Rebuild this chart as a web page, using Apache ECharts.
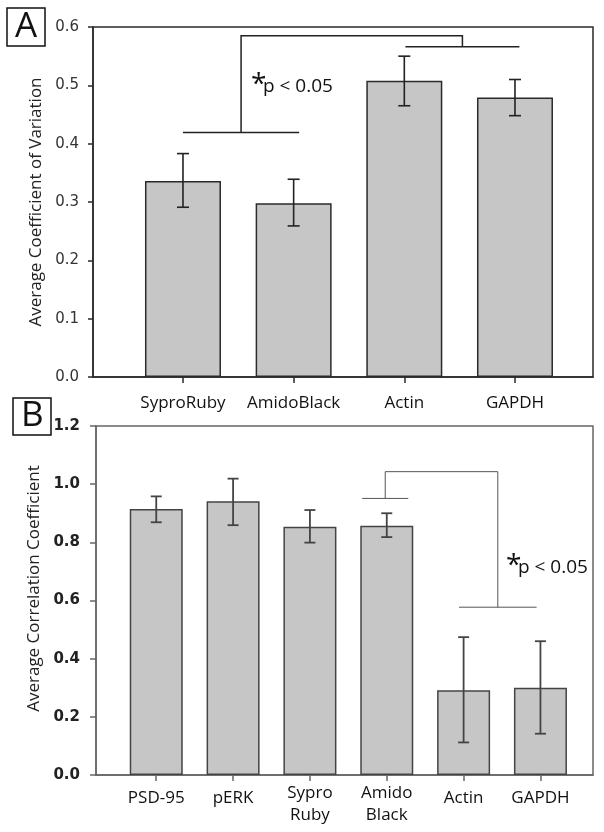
<!DOCTYPE html>
<html>
<head>
<meta charset="utf-8">
<script src="https://cdn.jsdelivr.net/npm/echarts@6/dist/echarts.min.js"></script>
<style>
html,body{margin:0;padding:0;background:#fff;}
#chart{width:604px;height:832px;}
</style>
</head>
<body>
<div id="chart"></div>
<script>
// ---- Panel A data ----
const catsA = ['SyproRuby', 'AmidoBlack', 'Actin', 'GAPDH'];
const meanA = [0.336, 0.298, 0.508, 0.479];
const errLoA = [0.045, 0.039, 0.043, 0.031];
const errHiA = [0.047, 0.041, 0.042, 0.031];
// significance bracket A: [xFrom, xTo, y]
const sigA_left = [1, 2.05, 0.419];
const sigA_right = [3.01, 4.04, 0.566];
const sigA_top = 0.585;
const sigA_text = [1.723, 0.497];

// ---- Panel B data ----
const catsB = ['PSD-95', 'pERK', 'Sypro\nRuby', 'Amido\nBlack', 'Actin', 'GAPDH'];
const meanB = [0.915, 0.941, 0.854, 0.857, 0.291, 0.300];
const errLoB = [0.046, 0.082, 0.055, 0.039, 0.179, 0.158];
const errHiB = [0.043, 0.078, 0.057, 0.043, 0.183, 0.160];
const sigB_left = [3.68, 4.28, 0.951];
const sigB_right = [4.94, 5.95, 0.577];
const sigB_top = 1.043;
const sigB_text = [5.707, 0.712];

const posA = catsA.map((c, i) => i + 1);
const posB = catsB.map((c, i) => i + 1);

const FONT = 'Open Sans';

function barData(pos, mean) { return pos.map((p, i) => [p, mean[i]]); }
function errData(pos, mean, lo, hi) { return pos.map((p, i) => [p, mean[i] - lo[i], mean[i] + hi[i]]); }

function errRender(color, lw, cw) {
  return function (params, api) {
    const x = api.value(0);
    const a = api.coord([x, api.value(1)]);
    const b = api.coord([x, api.value(2)]);
    const st = { stroke: color, lineWidth: lw };
    return { type: 'group', children: [
      { type: 'line', shape: { x1: a[0], y1: a[1], x2: b[0], y2: b[1] }, style: st },
      { type: 'line', shape: { x1: a[0] - cw, y1: a[1], x2: a[0] + cw, y2: a[1] }, style: st },
      { type: 'line', shape: { x1: b[0] - cw, y1: b[1], x2: b[0] + cw, y2: b[1] }, style: st }
    ] };
  };
}

function bracketRender(left, right, topY, textPos, color, lw, pSize, starSize) {
  return function (params, api) {
    const st = { stroke: color, lineWidth: lw, fill: null };
    const lm = (left[0] + left[1]) / 2, rm = (right[0] + right[1]) / 2;
    const l1 = api.coord([left[0], left[2]]), l2 = api.coord([left[1], left[2]]);
    const r1 = api.coord([right[0], right[2]]), r2 = api.coord([right[1], right[2]]);
    const pl = api.coord([lm, left[2]]), plt = api.coord([lm, topY]);
    const pr = api.coord([rm, right[2]]), prt = api.coord([rm, topY]);
    const tp = api.coord(textPos);
    return { type: 'group', children: [
      { type: 'line', shape: { x1: l1[0], y1: l1[1], x2: l2[0], y2: l2[1] }, style: st },
      { type: 'line', shape: { x1: r1[0], y1: r1[1], x2: r2[0], y2: r2[1] }, style: st },
      { type: 'polyline', shape: { points: [pl, plt, prt, pr] }, style: st },
      { type: 'text', style: { text: 'p < 0.05', x: tp[0], y: tp[1], fontSize: pSize, fontFamily: FONT, fill: '#111', align: 'left', verticalAlign: 'middle' } },
      { type: 'text', style: { text: '*', x: tp[0] - 12, y: tp[1] - 2, fontSize: starSize, fontFamily: FONT, fill: '#111', align: 'left', verticalAlign: 'middle' } }
    ] };
  };
}

const chart = echarts.init(document.getElementById('chart'), null, { renderer: 'canvas' });

const option = {
  animation: false,
  backgroundColor: '#fff',
  title: [
    { text: 'A', left: 7, top: 8, padding: [1, 8, 1, 8], borderWidth: 1.5, borderColor: '#111',
      textStyle: { fontSize: 35, fontFamily: FONT, fontWeight: 'normal', color: '#111', lineHeight: 36 } },
    { text: 'B', left: 13, top: 398, padding: [1, 8, 1, 8], borderWidth: 1.5, borderColor: '#111',
      textStyle: { fontSize: 35, fontFamily: FONT, fontWeight: 'normal', color: '#111', lineHeight: 35 } }
  ],
  grid: [
    { left: 93, top: 27, width: 500, height: 350, show: true, borderColor: '#2a2a2a', borderWidth: 1.5, backgroundColor: 'transparent' },
    { left: 96, top: 426, width: 497, height: 349, show: true, borderColor: '#666', borderWidth: 1.5, backgroundColor: 'transparent' }
  ],
  xAxis: [
    { type: 'value', gridIndex: 0, min: 0.187, max: 4.705,
      axisLine: { show: true, lineStyle: { color: '#2a2a2a', width: 1.5 } },
      axisTick: { show: true, inside: false, length: 6, customValues: posA, lineStyle: { color: '#2a2a2a', width: 1.5 } },
      axisLabel: { customValues: posA, margin: 15, formatter: v => catsA[Math.round(v) - 1] || '',
        fontFamily: FONT, fontSize: 17, color: '#111', lineHeight: 22 },
      splitLine: { show: false } },
    { type: 'value', gridIndex: 1, min: 0.216, max: 6.684,
      axisLine: { show: true, lineStyle: { color: '#666', width: 1.5 } },
      axisTick: { show: true, inside: false, length: 6, customValues: posB, lineStyle: { color: '#666', width: 1.5 } },
      axisLabel: { customValues: posB, margin: 7,
        formatter: v => { const s = catsB[Math.round(v) - 1] || ''; return s.indexOf('\n') >= 0 ? s : '{one|' + s + '}'; },
        fontFamily: FONT, fontSize: 17, color: '#111', lineHeight: 22,
        rich: { one: { fontFamily: FONT, fontSize: 17, color: '#111', lineHeight: 22, padding: [10, 0, 0, 0] } } },
      splitLine: { show: false } }
  ],
  yAxis: [
    { type: 'value', gridIndex: 0, min: 0, max: 0.6, interval: 0.1,
      name: 'Average Coefficient of Variation', nameLocation: 'middle', nameGap: 42, nameRotate: 90,
      nameTextStyle: { fontFamily: FONT, fontSize: 17, color: '#222' },
      axisLine: { show: true, lineStyle: { color: '#2a2a2a', width: 1.5 } },
      axisTick: { show: true, inside: false, length: 5, lineStyle: { color: '#2a2a2a', width: 1.5 } },
      axisLabel: { margin: 14, formatter: v => v.toFixed(1), fontFamily: 'DejaVu Sans', fontSize: 15, color: '#333' },
      splitLine: { show: false } },
    { type: 'value', gridIndex: 1, min: 0, max: 1.2, interval: 0.2,
      name: 'Average Correlation Coefficient', nameLocation: 'middle', nameGap: 48, nameRotate: 90,
      nameTextStyle: { fontFamily: FONT, fontSize: 17, color: '#222', padding: [0, 0, 0, 24] },
      axisLine: { show: true, lineStyle: { color: '#666', width: 1.5 } },
      axisTick: { show: true, inside: false, length: 6, lineStyle: { color: '#666', width: 1.5 } },
      axisLabel: { margin: 16, formatter: v => v.toFixed(1), fontFamily: 'DejaVu Sans', fontWeight: 'bold', fontSize: 15, color: '#222' },
      splitLine: { show: false } }
  ],
  series: [
    { type: 'bar', xAxisIndex: 0, yAxisIndex: 0, data: barData(posA, meanA), barWidth: 76,
      itemStyle: { color: '#c6c6c6', borderColor: '#2a2a2a', borderWidth: 1.5 }, z: 2 },
    { type: 'custom', xAxisIndex: 0, yAxisIndex: 0, data: errData(posA, meanA, errLoA, errHiA),
      encode: { x: 0, y: [1, 2] }, renderItem: errRender('#222', 1.6, 6), z: 3 },
    { type: 'custom', xAxisIndex: 0, yAxisIndex: 0, data: [[1, 0.5]], encode: { x: 0, y: 1 }, clip: false,
      renderItem: bracketRender(sigA_left, sigA_right, sigA_top, sigA_text, '#222', 1.5, 19, 28), z: 4 },

    { type: 'bar', xAxisIndex: 1, yAxisIndex: 1, data: barData(posB, meanB), barWidth: 53,
      itemStyle: { color: '#c6c6c6', borderColor: '#444', borderWidth: 1.5 }, z: 2 },
    { type: 'custom', xAxisIndex: 1, yAxisIndex: 1, data: errData(posB, meanB, errLoB, errHiB),
      encode: { x: 0, y: [1, 2] }, renderItem: errRender('#444', 1.8, 5.5), z: 3 },
    { type: 'custom', xAxisIndex: 1, yAxisIndex: 1, data: [[4, 0.8]], encode: { x: 0, y: 1 }, clip: false,
      renderItem: bracketRender(sigB_left, sigB_right, sigB_top, sigB_text, '#555', 1, 19, 28), z: 4 }
  ]
};
chart.setOption(option);
</script>
</body>
</html>
